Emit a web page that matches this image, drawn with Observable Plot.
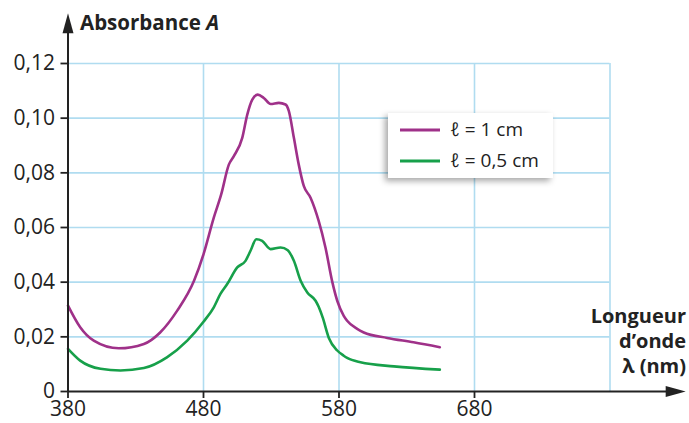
<!DOCTYPE html>
<html><head><meta charset="utf-8">
<script src="https://cdn.jsdelivr.net/npm/d3@7"></script>
<script src="https://cdn.jsdelivr.net/npm/@observablehq/plot@0.6"></script>
<style>body{margin:0;background:#fff;} #chart{position:relative;width:689px;height:423px;}</style>
</head><body><div id="chart"></div>
<script>
// Data
const nm1 = [380,389,399,417.5,436,448,460.6,473,480,487.6,493,498.7,502.4,508.6,512.3,516,520,524.5,529.5,535.6,540.5,543,546.7,550.3,554,559,565,570,575,578.7,583.5,586,593.4,598.3,615.6,635,654.4];
const abs1 = [0.0314,0.0235,0.0186,0.0158,0.0174,0.0216,0.0296,0.0405,0.0502,0.0636,0.072,0.083,0.0861,0.0928,0.1013,0.1068,0.1086,0.1074,0.1052,0.1056,0.105,0.1026,0.0928,0.083,0.0752,0.0709,0.0624,0.0527,0.0402,0.0332,0.0277,0.0259,0.0229,0.0216,0.0196,0.018,0.0162];
const nm2 = [380,389,404,418.7,436,453,468,480,487.6,492.5,497.5,504.9,511,514.7,519,523.3,529.5,536.9,542.2,546.7,551.7,556.6,562.7,565,568,572.5,578.7,583.5,586,595.8,620.5,654.4];
const abs2 = [0.0156,0.0113,0.0083,0.0077,0.0086,0.0125,0.0186,0.0255,0.0308,0.0357,0.0393,0.0454,0.0478,0.0515,0.0557,0.0551,0.0521,0.0527,0.0517,0.0478,0.0405,0.0362,0.0332,0.031,0.027,0.0196,0.015,0.0131,0.0123,0.0107,0.0092,0.008];
const seriesNames = ["ℓ = 1 cm", "ℓ = 0,5 cm"];
const seriesColors = ["#9f3189", "#17a04a"];
const xTicks = [380,480,580,680];
const xGrid = [480,580,680,780];
const yTicks = [0,0.02,0.04,0.06,0.08,0.10,0.12];
const yLabel = ["Absorbance ", "A"];
const xLabel = ["Longueur", "d’onde", "λ (nm)"];

const data1 = nm1.map((x,i)=>({x, y: abs1[i]}));
const data2 = nm2.map((x,i)=>({x, y: abs2[i]}));
const gridColor = "#b0dcf0";
const fmt = d => d === 0 ? "0" : d.toFixed(2).replace(".", ",");
const arrowHead = {draw(ctx){ ctx.moveTo(0,-10); ctx.lineTo(5.5,10); ctx.lineTo(-5.5,10); ctx.closePath(); }};

const svg = Plot.plot({
  width: 689, height: 423,
  marginLeft: 67.5, marginRight: 79.5, marginTop: 63, marginBottom: 32,
  style: {fontFamily: "'Open Sans', sans-serif", fontSize: "21px", color: "#222", background: "#fff"},
  x: {domain: [380, 780]},
  y: {domain: [0, 0.12]},
  marks: [
    Plot.ruleY(yTicks.filter(d=>d>0), {x1: 380, x2: 780, stroke: gridColor, strokeWidth: 1.6}),
    Plot.ruleX(xGrid, {y1: 0, y2: 0.12, stroke: gridColor, strokeWidth: 1.6}),
    Plot.line(data1, {x: "x", y: "y", stroke: seriesColors[0], strokeWidth: 2.6, curve: "monotone-x"}),
    Plot.line(data2, {x: "x", y: "y", stroke: seriesColors[1], strokeWidth: 2.6, curve: "monotone-x"}),
    Plot.axisY({ticks: yTicks, tickFormat: fmt, tickSize: 7, tickPadding: 6, stroke: "#222", strokeWidth: 1.8, label: null, fontSize: 21}),
    Plot.axisX({ticks: xTicks, tickFormat: d => String(d), tickSize: 7, tickPadding: 3, stroke: "#222", strokeWidth: 1.8, label: null, fontSize: 21}),
    Plot.ruleX([380], {y1: 0, y2: 0.131, stroke: "#222", strokeWidth: 2}),
    Plot.ruleY([0], {x1: 380, x2: 826, stroke: "#222", strokeWidth: 2}),
    Plot.dot([{x: 380, y: 0.1347}], {x: "x", y: "y", symbol: arrowHead, fill: "#222", stroke: "none"}),
    Plot.dot([{x: 828.5, y: 0}], {x: "x", y: "y", symbol: arrowHead, rotate: 90, fill: "#222", stroke: "none"})
  ]
});
document.getElementById("chart").appendChild(svg);

const s = d3.select(svg);
const font = "'Open Sans', sans-serif";
const t = s.append("text").attr("x", 80).attr("y", 30).attr("text-anchor", "start").attr("font-family", font).attr("font-size", 20.5).attr("font-weight", "bold").attr("fill", "#222");
t.append("tspan").text(yLabel[0]);
t.append("tspan").attr("font-style", "italic").text(yLabel[1]);
xLabel.forEach((l,i) => s.append("text").attr("x", 686).attr("y", 323 + i*25).attr("text-anchor", "end")
  .attr("font-family", font).attr("font-size", 20).attr("font-weight", "bold").attr("fill", "#222").text(l));

// legend
const lg = s.append("g");
lg.append("rect").attr("x", 388).attr("y", 113).attr("width", 165).attr("height", 65).attr("fill", "#fff")
  .style("filter", "drop-shadow(-3px 3px 3px rgba(0,0,0,0.35))");
seriesNames.forEach((n,i) => {
  const yy = 130 + i*31;
  lg.append("line").attr("x1", 400).attr("x2", 440).attr("y1", yy).attr("y2", yy).attr("stroke", seriesColors[i]).attr("stroke-width", 3);
  lg.append("text").attr("x", 450).attr("y", yy + 6).attr("text-anchor", "start").attr("font-family", font).attr("font-size", 19).attr("fill", "#222").text(n);
});
</script></body></html>
